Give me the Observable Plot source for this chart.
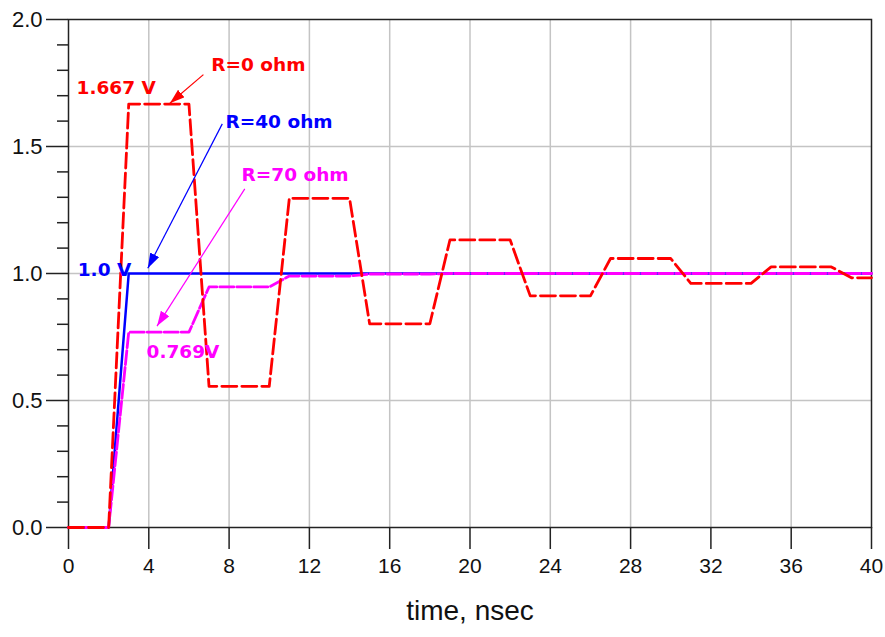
<!DOCTYPE html>
<html><head><meta charset="utf-8">
<script src="https://cdn.jsdelivr.net/npm/d3@7"></script>
<script src="https://cdn.jsdelivr.net/npm/@observablehq/plot@0.6"></script>
<style>html,body{margin:0;padding:0;background:#fff;}</style>
</head><body><div id="chart"></div>
<script>
// ---- data ----
const timeR0 = [0, 2, 3, 6, 7, 10, 11, 14, 15, 18, 19, 22, 23, 26, 27, 30, 31, 34, 35, 38, 39, 40];
const voltR0 = [0, 0, 1.667, 1.667, 0.556, 0.556, 1.296, 1.296, 0.802, 0.802, 1.132, 1.132, 0.912, 0.912, 1.059, 1.059, 0.961, 0.961, 1.026, 1.026, 0.983, 0.983];
const timeR40 = [0, 2, 3, 40];
const voltR40 = [0, 0, 1.0, 1.0];
const timeR70 = [0, 2, 3, 6, 7, 10, 11, 14, 15, 18, 19, 40];
const voltR70 = [0, 0, 0.769, 0.769, 0.947, 0.947, 0.990, 0.990, 0.998, 0.998, 1.0, 1.0];

const xTicks = [0, 4, 8, 12, 16, 20, 24, 28, 32, 36, 40];
const xGrid = [4, 8, 12, 16, 20, 24, 28, 32, 36];
const yTicks = [0, 0.5, 1.0, 1.5, 2.0];
const yGrid = [0.5, 1.0, 1.5];
const yMinor = [0.1, 0.2, 0.3, 0.4, 0.6, 0.7, 0.8, 0.9, 1.1, 1.2, 1.3, 1.4, 1.6, 1.7, 1.8, 1.9];

const labelTexts = ["1.667 V", "R=0 ohm", "R=40 ohm", "1.0 V", "R=70 ohm", "0.769V"];
const labelT = [0.40, 7.11, 7.82, 0.46, 8.62, 3.89];
const labelV = [1.731, 1.822, 1.596, 1.012, 1.387, 0.690];
const labelColor = ["#ff0000", "#ff0000", "#0000ff", "#0000ff", "#ff00ff", "#ff00ff"];

const arrowT1 = [6.72, 7.66, 8.78];
const arrowV1 = [1.783, 1.589, 1.333];
const arrowT2 = [5.05, 3.95, 4.41];
const arrowV2 = [1.670, 1.021, 0.793];
const arrowColor = ["#ff0000", "#0000ff", "#ff00ff"];

const xLabel = "time, nsec";

// ---- build tables ----
const toRows = (ts, vs) => ts.map((t, i) => ({t, v: vs[i]}));
const r0 = toRows(timeR0, voltR0);
const r40 = toRows(timeR40, voltR40);
const r70 = toRows(timeR70, voltR70);
const labels = labelTexts.map((s, i) => ({s, t: labelT[i], v: labelV[i], c: labelColor[i]}));
const arrows = arrowT1.map((t1, i) => ({t1, v1: arrowV1[i], t2: arrowT2[i], v2: arrowV2[i], c: arrowColor[i]}));

function filledArrow(color) {
  const m = d3.create("svg:marker")
    .attr("viewBox", "-15 -5 15 10")
    .attr("markerWidth", 15).attr("markerHeight", 10)
    .attr("markerUnits", "userSpaceOnUse")
    .attr("orient", "auto")
    .attr("fill", color).attr("stroke", "none");
  m.append("path").attr("d", "M-15,-5L0,0L-15,5Z");
  return m.node();
}

let arrowMarks;
try {
  arrowMarks = arrows.map(a => Plot.link([a], {x1: "t1", y1: "v1", x2: "t2", y2: "v2", stroke: a.c, strokeWidth: 1.2, markerEnd: filledArrow}));
} catch (e) {
  arrowMarks = arrows.map(a => Plot.arrow([a], {x1: "t1", y1: "v1", x2: "t2", y2: "v2", stroke: a.c, strokeWidth: 1.2, headLength: 12}));
}

const chart = Plot.plot({
  width: 885,
  height: 637,
  marginLeft: 68,
  marginRight: 14,
  marginTop: 19,
  marginBottom: 110,
  style: {background: "#fff", color: "#111", fontFamily: "'Liberation Sans', Arial, sans-serif"},
  x: {domain: [0, 40]},
  y: {domain: [0, 2]},
  marks: [
    Plot.gridX(xGrid, {stroke: "#c4c4c4", strokeOpacity: 1, strokeWidth: 1.5}),
    Plot.gridY(yGrid, {stroke: "#c4c4c4", strokeOpacity: 1, strokeWidth: 1.5}),
    Plot.axisX({ticks: xTicks, tickSize: 22, tickPadding: 9, fontSize: 21, label: null, stroke: "#222", strokeWidth: 1.5, tickFormat: d => String(d)}),
    Plot.axisY({ticks: yTicks, tickSize: 22, tickPadding: 4, fontSize: 22, label: null, stroke: "#222", strokeWidth: 1.5, tickFormat: d3.format(".1f")}),
    Plot.axisY({ticks: yMinor, tickSize: 11, label: null, stroke: "#222", strokeWidth: 1.5, tickFormat: () => ""}),
    Plot.frame({stroke: "#222", strokeWidth: 1.5}),
    Plot.line(r40, {x: "t", y: "v", stroke: "#0000ff", strokeWidth: 2.5}),
    Plot.line(r70, {x: "t", y: "v", stroke: "#ff00ff", strokeWidth: 2.8, strokeDasharray: "14,3"}),
    Plot.line(r0, {x: "t", y: "v", stroke: "#ff0000", strokeWidth: 2.8, strokeDasharray: "15,5"}),
    ...arrowMarks,
    Plot.text(labels, {x: "t", y: "v", text: "s", fill: "c", textAnchor: "start", fontSize: 18.5, fontWeight: "bold", fontFamily: "'DejaVu Sans', Verdana, sans-serif"}),
    Plot.text([xLabel], {frameAnchor: "bottom", text: d => d, dy: 92, fontSize: 28, fill: "#111"})
  ]
});
document.getElementById("chart").appendChild(chart);
</script>
</body></html>
